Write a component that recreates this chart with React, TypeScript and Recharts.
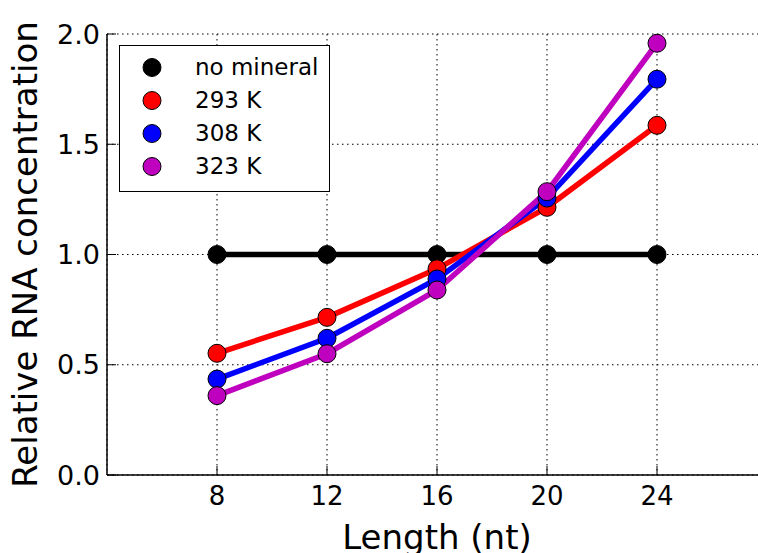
import { LineChart, Line, XAxis, YAxis, CartesianGrid, Legend, Label } from "recharts";

const lengths = [8, 12, 16, 20, 24];
const noMineral = [1.0, 1.0, 1.0, 1.0, 1.0];
const k293 = [0.552, 0.715, 0.935, 1.214, 1.586];
const k308 = [0.435, 0.62, 0.889, 1.256, 1.795];
const k323 = [0.36, 0.55, 0.839, 1.285, 1.958];
const yTicks = [0, 0.5, 1.0, 1.5, 2.0];

const series = [
  { key: "none", name: "no mineral", color: "#000000" },
  { key: "k293", name: "293 K", color: "#ff0000" },
  { key: "k308", name: "308 K", color: "#0000ff" },
  { key: "k323", name: "323 K", color: "#bf00bf" },
];

const data = lengths.map((len, i) => ({
  len,
  none: noMineral[i],
  k293: k293[i],
  k308: k308[i],
  k323: k323[i],
}));

const FONT = "'DejaVu Sans', sans-serif";

// legend box floats over the plot, so its wrapper is 0x0 and takes no space
const LegendBox = () => (
  <div
    style={{
      position: "absolute",
      left: 0,
      top: 0,
      width: 211,
      height: 147,
      border: "1.5px solid #000",
      background: "#fff",
      boxSizing: "border-box",
      fontFamily: FONT,
      fontSize: 23,
    }}
  >
    {series.map((s, i) => (
      <div
        key={s.key}
        style={{ position: "absolute", left: 0, top: 5 + i * 33, height: 33, display: "flex", alignItems: "center" }}
      >
        <svg width={60} height={33} style={{ display: "block" }}>
          <circle cx={32} cy={16.5} r={9} fill={s.color} stroke="#000" strokeWidth={1} />
        </svg>
        <span style={{ marginLeft: 15, color: "#000", lineHeight: "33px", whiteSpace: "nowrap" }}>{s.name}</span>
      </div>
    ))}
  </div>
);

export default function App() {
  return (
    <div style={{ position: "absolute", left: 0, top: 0, width: 758, height: 553, overflow: "hidden", background: "#fff" }}>
      <LineChart width={770} height={553} data={data} margin={{ top: 34, right: 3, left: 0, bottom: 0 }}>
        <CartesianGrid stroke="#000" strokeDasharray="1.5 3.5" strokeWidth={1} />
        <XAxis
          dataKey="len"
          type="number"
          domain={[4, 28]}
          ticks={lengths}
          height={78}
          tickSize={-9}
          tickMargin={21}
          axisLine={{ stroke: "#000", strokeWidth: 1.5 }}
          tickLine={{ stroke: "#000", strokeWidth: 1 }}
          tick={{ fill: "#000", fontSize: 26, fontFamily: FONT }}
        >
          <Label
            value="Length (nt)"
            position="insideBottom"
            offset={4}
            style={{ fill: "#000", fontSize: 34, fontFamily: FONT }}
          />
        </XAxis>
        <XAxis
          xAxisId="top"
          dataKey="len"
          type="number"
          domain={[4, 28]}
          ticks={lengths}
          orientation="top"
          height={0}
          tickSize={-9}
          tick={false}
          axisLine={{ stroke: "#000", strokeWidth: 1.5 }}
          tickLine={{ stroke: "#000", strokeWidth: 1 }}
        />
        <YAxis
          type="number"
          domain={[0, 2]}
          ticks={yTicks}
          width={107}
          tickSize={-9}
          tickMargin={16}
          tickFormatter={(v: number) => v.toFixed(1)}
          axisLine={{ stroke: "#000", strokeWidth: 1.5 }}
          tickLine={{ stroke: "#000", strokeWidth: 1 }}
          tick={{ fill: "#000", fontSize: 27, fontFamily: FONT }}
        >
          <Label
            value="Relative RNA concentration"
            angle={-90}
            position="insideLeft"
            offset={25}
            style={{ fill: "#000", fontSize: 34, fontFamily: FONT, textAnchor: "middle" }}
          />
        </YAxis>
        <Legend
          content={<LegendBox />}
          wrapperStyle={{ position: "absolute", left: 119, top: 45, width: 0, height: 0, overflow: "visible" }}
        />
        {series.map((s) => (
          <Line
            key={s.key}
            dataKey={s.key}
            name={s.name}
            stroke={s.color}
            strokeWidth={5.5}
            isAnimationActive={false}
            dot={{ r: 9, fill: s.color, stroke: "#000", strokeWidth: 1 }}
            activeDot={false}
          />
        ))}
      </LineChart>
    </div>
  );
}
